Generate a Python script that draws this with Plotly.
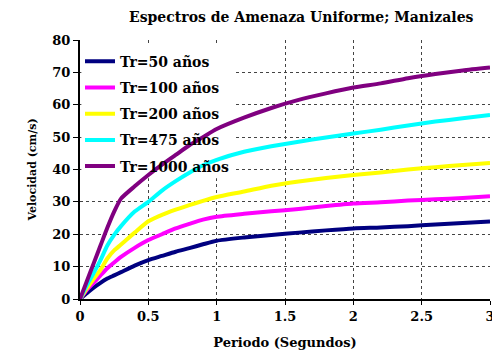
import plotly.graph_objects as go

periodo = [0, 0.05, 0.1, 0.15, 0.2, 0.25, 0.3, 0.4, 0.5, 0.6, 0.7, 0.8, 0.9, 1.0,
           1.2, 1.4, 1.6, 1.8, 2.0, 2.2, 2.4, 2.6, 2.8, 3.0]

tr50 = [0, 1.8, 3.5, 5.0, 6.3, 7.3, 8.3, 10.3, 12.0, 13.3, 14.6, 15.7, 16.9, 18.0,
        19.0, 19.8, 20.5, 21.2, 21.8, 22.1, 22.5, 23.0, 23.5, 23.9]
tr100 = [0, 2.8, 5.0, 7.3, 9.5, 11.3, 13.0, 15.8, 18.2, 20.0, 21.8, 23.2, 24.5, 25.4,
         26.3, 27.1, 27.8, 28.7, 29.5, 29.9, 30.4, 30.8, 31.2, 31.7]
tr200 = [0, 3.3, 6.2, 9.0, 12.5, 15.0, 16.8, 20.5, 24.0, 26.0, 27.6, 29.0, 30.3, 31.5,
         33.2, 35.0, 36.3, 37.4, 38.3, 39.1, 40.0, 40.7, 41.4, 42.0]
tr475 = [0, 4.2, 8.0, 12.0, 16.5, 19.8, 22.5, 27.0, 30.0, 33.5, 36.4, 39.0, 41.3, 43.0,
         45.5, 47.2, 48.6, 49.9, 51.1, 52.3, 53.6, 54.8, 55.8, 56.8]
tr1000 = [0, 5.5, 11.0, 16.5, 22.0, 27.0, 31.0, 34.8, 38.3, 41.5, 44.5, 47.5, 50.0, 52.5,
          56.0, 59.0, 61.5, 63.5, 65.3, 66.6, 68.2, 69.5, 70.6, 71.5]

series_names = ["Tr=50 años", "Tr=100 años", "Tr=200 años", "Tr=475 años", "Tr=1000 años"]
series_vals = [tr50, tr100, tr200, tr475, tr1000]
colors = ["#000080", "#FF00FF", "#FFFF00", "#00FFFF", "#800080"]

x_ticks = [0, 0.5, 1, 1.5, 2, 2.5, 3]
y_ticks = [0, 10, 20, 30, 40, 50, 60, 70, 80]

FONT = "DejaVu Serif"

fig = go.Figure()
for i, (name, vals, col) in enumerate(zip(series_names, series_vals, colors)):
    fig.add_trace(go.Scatter(
        x=periodo, y=vals, mode="lines", name=f"<b>{name}</b>",
        line=dict(color=col, width=4, shape="spline", smoothing=0.6),
        legendgroup=f"g{i}",
    ))

# white panel behind the legend hides the gridlines there (lines stay visible)
fig.add_shape(type="rect", xref="x", yref="y", x0=0.01, x1=1.12, y0=37.3, y1=78.6,
              fillcolor="white", line=dict(width=0), layer="between")

fig.update_layout(
    width=492, height=354,
    margin=dict(l=72, r=10, t=32, b=63),
    paper_bgcolor="white", plot_bgcolor="white",
    font=dict(family=FONT, color="black"),
    title=dict(text="<b>Espectros de Amenaza Uniforme; Manizales</b>",
               x=0.596, xanchor="center", y=0.975, yanchor="middle",
               font=dict(size=14, family=FONT, color="black")),
    legend=dict(x=0.0, y=0.978, xanchor="left", yanchor="top",
                bgcolor="rgba(0,0,0,0)", borderwidth=0,
                font=dict(size=14, family=FONT, color="black"),
                tracegroupgap=5, itemwidth=30),
    showlegend=True,
)

fig.update_xaxes(
    range=[0, 3], tickvals=x_ticks, ticktext=[f"<b>{v:g}</b>" for v in x_ticks],
    showgrid=True, gridcolor="#444444", griddash="dot", gridwidth=1,
    showline=True, linecolor="black", linewidth=2, mirror=False,
    ticks="outside", ticklen=4, tickcolor="black",
    tickfont=dict(size=13, family=FONT), zeroline=False, automargin=False,
    title=dict(text="<b>Periodo (Segundos)</b>", font=dict(size=13, family=FONT), standoff=15),
)
fig.update_yaxes(
    range=[0, 80], tickvals=y_ticks, ticktext=[f"<b>{v}</b>" for v in y_ticks],
    showgrid=True, gridcolor="#444444", griddash="dot", gridwidth=1,
    showline=True, linecolor="black", linewidth=2, mirror=False,
    ticks="outside", ticklen=5, tickcolor="black",
    tickfont=dict(size=13, family=FONT), zeroline=False, automargin=False,
    title=dict(text="<b>Velocidad (cm/s)</b>", font=dict(size=11, family=FONT), standoff=13),
)

fig.write_html("out.html")
